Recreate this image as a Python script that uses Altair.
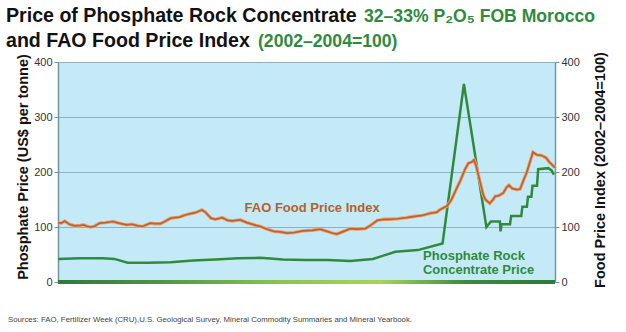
import altair as alt
import pandas as pd

# ---- data ----
fao_year = [1990.0, 1990.15, 1990.3, 1990.5, 1990.75, 1991.0, 1991.15, 1991.3, 1991.45, 1991.6,
            1991.85, 1992.1, 1992.45, 1992.7, 1993.05, 1993.3, 1993.55, 1993.75, 1994.1, 1994.3,
            1994.55, 1994.75, 1995.0, 1995.2, 1995.4, 1995.6, 1995.85, 1996.1, 1996.4, 1996.55,
            1996.8, 1997.0, 1997.3, 1997.55, 1997.75, 1998.1, 1998.4, 1998.8, 1999.0, 1999.3,
            1999.6, 1999.9, 2000.2, 2000.5, 2000.9, 2001.3, 2001.65, 2001.9, 2002.2, 2002.4,
            2002.7, 2003.0, 2003.3, 2003.66, 2003.9, 2004.2, 2004.5, 2004.77, 2005.1, 2005.5,
            2005.8, 2006.2, 2006.55, 2006.85, 2007.0, 2007.3, 2007.5, 2007.7, 2007.9, 2008.1,
            2008.25, 2008.4, 2008.5, 2008.6, 2008.77, 2008.9, 2009.0, 2009.2, 2009.35, 2009.44,
            2009.6, 2009.8, 2009.95, 2010.05, 2010.2, 2010.4, 2010.55, 2010.7, 2010.85, 2011.0,
            2011.12, 2011.3, 2011.5, 2011.7, 2011.85, 2011.95, 2012.1]
fao_val = [108, 107, 111, 105, 102, 103, 104, 101, 100, 101,
           107, 108, 110, 107, 104, 105, 102, 101, 107, 106,
           106, 110, 116, 117, 118, 121, 124, 126, 131, 127,
           116, 114, 117, 112, 111, 113, 108, 103, 101, 96,
           92, 91, 89, 90, 93, 94, 96, 93, 89, 87,
           92, 97, 96, 97, 103, 112, 114, 114, 115, 117,
           119, 121, 125, 127, 132, 138, 150, 168, 185, 205,
           216, 218, 222, 210, 182, 160, 150, 143, 150, 156,
           157, 162, 172, 176, 170, 168, 169, 185, 200, 220,
           236, 231, 230, 226, 218, 214, 208]

phos_year = [1990.0, 1991.0, 1992.0, 1992.5, 1993.1, 1994.0, 1995.0, 1996.0, 1997.0, 1998.0,
             1999.0, 2000.0, 2001.0, 2002.0, 2003.0, 2004.0, 2004.4, 2005.0, 2006.0, 2007.1,
             2008.05, 2009.05, 2009.25, 2009.65, 2009.68, 2009.72, 2010.1, 2010.15, 2010.6, 2010.65,
             2010.85, 2010.9, 2011.05, 2011.1, 2011.3, 2011.35, 2011.8, 2011.95, 2012.05]
phos_val = [42, 43, 43, 42, 35, 35, 36, 39, 41, 43,
            44, 41, 40, 40, 38, 42, 47, 55, 58, 70,
            360, 100, 110, 110, 92, 105, 105, 120, 120, 137,
            137, 155, 155, 175, 175, 205, 207, 203, 195]

year_ticks = list(range(1990, 2013))
y_ticks = [0, 100, 200, 300, 400]

X_DOMAIN = [1990, 2012.1]
W, H = 497, 220

fao = pd.DataFrame({"year": fao_year, "value": fao_val})
phos = pd.DataFrame({"year": phos_year, "value": phos_val})

FONT = "Liberation Sans"
GREEN = "#2f8a3e"
ORANGE = "#c2612b"

xscale = alt.Scale(domain=X_DOMAIN, nice=False, zero=False)
yscale = alt.Scale(domain=[0, 400], nice=False)

x_axis = alt.Axis(values=year_ticks, format="d",
                  labelExpr="(datum.value - 1990) % 3 == 0 ? datum.label : ''",
                  title=None, domain=False, grid=False, tickSize=4, tickColor="#d8e8c8",
                  tickWidth=1, labelFont=FONT, labelFontSize=11, labelColor="#333333",
                  labelPadding=5, offset=0)

phos_line = alt.Chart(phos).mark_line(color=GREEN, strokeWidth=2.5).encode(
    x=alt.X("year:Q", scale=xscale, axis=x_axis),
    y=alt.Y("value:Q", scale=yscale,
            axis=alt.Axis(values=y_ticks, title=None,
                          labelFont=FONT, labelFontSize=11, labelColor="#333333",
                          domainColor="#6f95a6", domainWidth=1.5, tickColor="#6f95a6",
                          tickSize=4, grid=True, gridColor="#8db3c2", gridWidth=1)),
)

fao_halo = alt.Chart(fao).mark_line(color="#e8a577", strokeWidth=3.4).encode(
    x=alt.X("year:Q", scale=xscale, axis=None),
    y=alt.Y("value:Q", scale=yscale, axis=None),
)

fao_line = alt.Chart(fao).mark_line(color=ORANGE, strokeWidth=1.7).encode(
    x=alt.X("year:Q", scale=xscale, axis=None),
    y=alt.Y("value:Q", scale=yscale,
            axis=alt.Axis(values=y_ticks, orient="right", title=None,
                          labelFont=FONT, labelFontSize=11, labelColor="#333333",
                          domainColor="#6f95a6", domainWidth=1.5, tickColor="#6f95a6",
                          tickSize=4, grid=False)),
)

bar = alt.Chart(pd.DataFrame({"a": [0]})).mark_rect(
    fill=alt.Gradient(gradient="linear",
                      stops=[alt.GradientStop(color="#2e7a36", offset=0),
                             alt.GradientStop(color="#4c9640", offset=0.2),
                             alt.GradientStop(color="#8cc44e", offset=0.45),
                             alt.GradientStop(color="#a9d35a", offset=0.65),
                             alt.GradientStop(color="#3e8a3a", offset=0.82),
                             alt.GradientStop(color="#2e7a36", offset=1)],
                      x1=0, x2=1, y1=0, y2=0)
).encode(x=alt.value(0), x2=alt.value(W), y=alt.value(H - 2), y2=alt.value(H + 2))

lab_fao = alt.Chart(pd.DataFrame({"year": [2001.3], "value": [134], "t": ["FAO Food Price Index"]})).mark_text(
    font=FONT, fontSize=13, fontWeight="bold", color="#b5602e", align="center", baseline="middle"
).encode(x=alt.X("year:Q", scale=xscale, axis=None), y=alt.Y("value:Q", scale=yscale, axis=None), text="t:N")

lab_phos = alt.Chart(pd.DataFrame({"year": [2008.5, 2008.7], "value": [47, 21],
                                   "t": ["Phosphate Rock", "Concentrate Price"]})).mark_text(
    font=FONT, fontSize=13, fontWeight="bold", color=GREEN, align="center", baseline="middle"
).encode(x=alt.X("year:Q", scale=xscale, axis=None), y=alt.Y("value:Q", scale=yscale, axis=None), text="t:N")


def txt(s, x, y, size, color, weight="bold", angle=0, align="left", baseline="alphabetic"):
    return alt.Chart(pd.DataFrame({"t": [s]})).mark_text(
        font=FONT, fontSize=size, fontWeight=weight, color=color, align=align, baseline=baseline,
        angle=angle
    ).encode(x=alt.value(x), y=alt.value(y), text="t:N")


t1 = txt("Price of Phosphate Rock Concentrate", -52, -40, 19.6, "#111111")
t2 = txt("32\u201333% P\u2082O\u2085 FOB Morocco", 306, -40, 17.6, GREEN)
t3 = txt("and FAO Food Price Index", -52, -15, 19.6, "#111111")
t4 = txt("(2002\u20132004=100)", 200, -15, 17.6, GREEN)
ytl = txt("Phosphate Price (US$ per tonne)", -34, 105, 14.5, "#111111", angle=270,
          align="center", baseline="middle")
ytr = txt("Food Price Index (2002\u20132004=100)", W + 46, 108, 14.5, "#111111", angle=270,
          align="center", baseline="middle")
src = txt("Sources: FAO, Fertilizer Week (CRU),U.S. Geological Survey, Mineral Commodity Summaries and Mineral Yearbook.",
          -50, 40 + H, 7.8, "#444444", weight="normal")

chart = alt.layer(
    phos_line, fao_halo, fao_line, bar, lab_fao, lab_phos, t1, t2, t3, t4, ytl, ytr, src
).resolve_scale(y="independent").properties(
    width=W, height=H,
    autosize=alt.AutoSizeParams(type="none"),
    padding={"left": 58, "top": 62, "right": 71, "bottom": 50},
    background="white",
).configure_view(fill="#c4eaf8", stroke=None)

chart.save("out.html", embed_options={"renderer": "svg", "actions": False})
